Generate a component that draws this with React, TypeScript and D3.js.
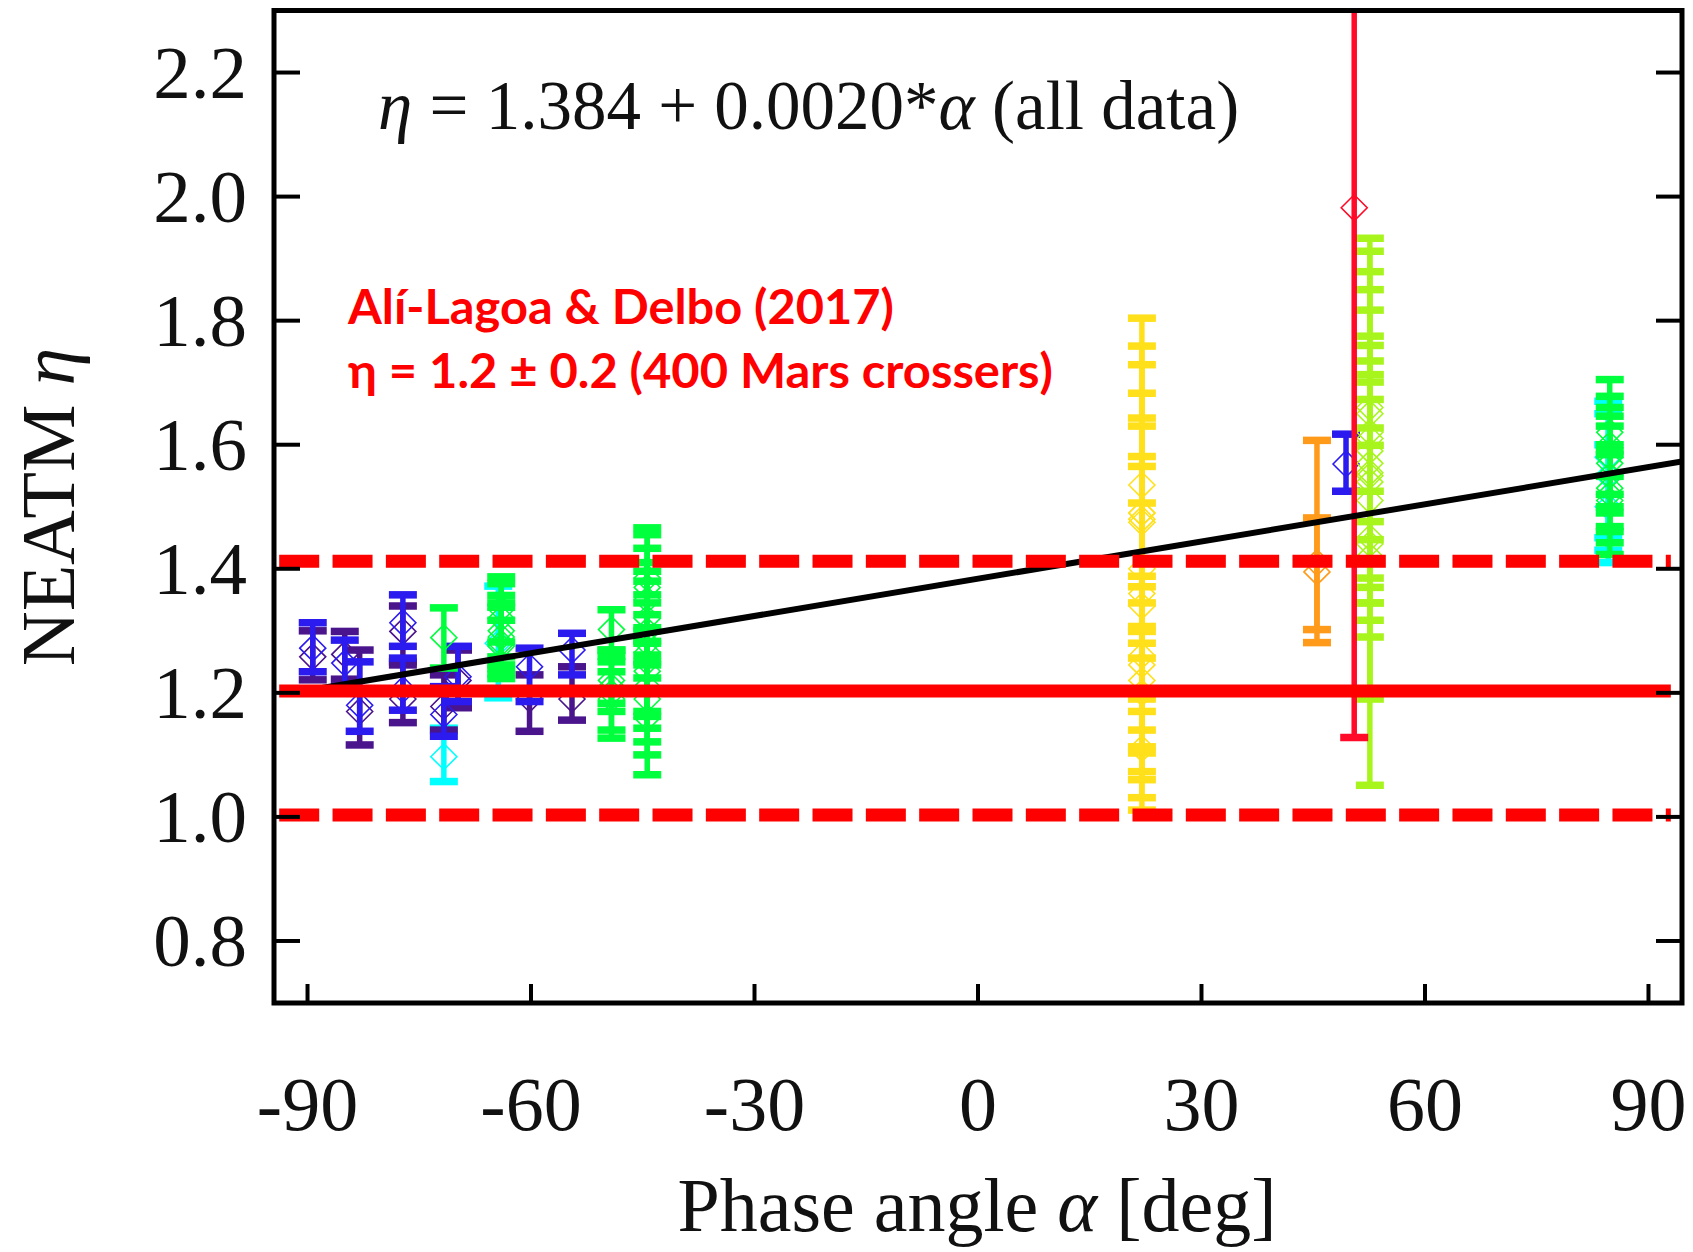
import React from 'react';
import * as d3 from 'd3';

// each point: [phase angle alpha, eta, lower end of error bar, upper end of error bar]
type Pt = [number, number, number, number];

const xTicks = [-90, -60, -30, 0, 30, 60, 90];
const yTicks = [0.8, 1.0, 1.2, 1.4, 1.6, 1.8, 2.0, 2.2];
const xDomain: [number, number] = [-94.5, 94.5];
const yDomain: [number, number] = [0.7, 2.3];

const fitIntercept = 1.384;
const fitSlope = 0.002;

const refMean = 1.203;
const refBand = [1.003, 1.412];

const cyanPts: Pt[] = [
  [-71.7, 1.097, 1.057, 1.143],
  [-64.4, 1.28, 1.192, 1.372],
  [84.6, 1.58, 1.45, 1.67],
  [84.6, 1.5, 1.41, 1.6],
  [84.6, 1.55, 1.43, 1.65],
];

const purplePts: Pt[] = [
  [-89.3, 1.258, 1.221, 1.3],
  [-85.0, 1.262, 1.222, 1.299],
  [-83.0, 1.17, 1.116, 1.269],
  [-77.2, 1.299, 1.25, 1.34],
  [-77.2, 1.19, 1.152, 1.245],
  [-71.7, 1.178, 1.14, 1.229],
  [-69.8, 1.22, 1.176, 1.269],
  [-60.2, 1.19, 1.138, 1.229],
  [-54.5, 1.19, 1.156, 1.242],
];

const bluePts: Pt[] = [
  [-89.3, 1.272, 1.234, 1.313],
  [-85.0, 1.248, 1.21, 1.285],
  [-83.0, 1.18, 1.138, 1.25],
  [-77.2, 1.313, 1.275, 1.358],
  [-77.2, 1.205, 1.172, 1.256],
  [-71.7, 1.165, 1.13, 1.21],
  [-69.8, 1.226, 1.186, 1.275],
  [-60.2, 1.242, 1.186, 1.272],
  [-54.5, 1.269, 1.229, 1.296],
  [49.4, 1.569, 1.525, 1.617],
];

const greenPts: Pt[] = [
  [-71.7, 1.289, 1.24, 1.337],
  [-64.0, 1.335, 1.282, 1.387],
  [-64.0, 1.32, 1.258, 1.376],
  [-64.0, 1.3, 1.239, 1.357],
  [-64.0, 1.28, 1.223, 1.338],
  [-64.0, 1.275, 1.23, 1.317],
  [-64.0, 1.29, 1.245, 1.345],
  [-49.2, 1.302, 1.269, 1.334],
  [-49.2, 1.19, 1.127, 1.25],
  [-49.2, 1.2, 1.14, 1.259],
  [-49.2, 1.21, 1.17, 1.234],
  [-49.2, 1.22, 1.183, 1.269],
  [-44.4, 1.385, 1.305, 1.466],
  [-44.4, 1.37, 1.283, 1.455],
  [-44.4, 1.35, 1.261, 1.433],
  [-44.4, 1.32, 1.245, 1.396],
  [-44.4, 1.3, 1.224, 1.38],
  [-44.4, 1.265, 1.17, 1.358],
  [-44.4, 1.25, 1.162, 1.345],
  [-44.4, 1.235, 1.143, 1.326],
  [-44.4, 1.21, 1.121, 1.3],
  [-44.4, 1.19, 1.1, 1.28],
  [-44.4, 1.16, 1.068, 1.25],
  [-44.4, 1.28, 1.2, 1.41],
  [84.8, 1.62, 1.549, 1.705],
  [84.8, 1.6, 1.5, 1.678],
  [84.8, 1.57, 1.49, 1.646],
  [84.8, 1.55, 1.468, 1.63],
  [84.8, 1.53, 1.442, 1.6],
  [84.8, 1.51, 1.423, 1.584],
  [84.8, 1.58, 1.52, 1.66],
  [84.8, 1.52, 1.46, 1.59],
];

const yellowPts: Pt[] = [
  [22.0, 1.535, 1.28, 1.804],
  [22.0, 1.48, 1.205, 1.759],
  [22.0, 1.49, 1.256, 1.729],
  [22.0, 1.49, 1.299, 1.683],
  [22.0, 1.475, 1.307, 1.643],
  [22.0, 1.4, 1.17, 1.63],
  [22.0, 1.36, 1.14, 1.581],
  [22.0, 1.34, 1.113, 1.565],
  [22.0, 1.26, 1.011, 1.506],
  [22.0, 1.245, 1.103, 1.388],
  [22.0, 1.22, 1.073, 1.371],
  [22.0, 1.2, 1.06, 1.345],
  [22.0, 1.11, 1.031, 1.19],
];

const orangePts: Pt[] = [
  [45.5, 1.41, 1.281, 1.607],
  [45.5, 1.395, 1.302, 1.482],
];

const limePts: Pt[] = [
  [52.6, 1.66, 1.385, 1.933],
  [52.6, 1.55, 1.19, 1.912],
  [52.6, 1.61, 1.345, 1.879],
  [52.6, 1.45, 1.051, 1.85],
  [52.6, 1.57, 1.317, 1.817],
  [52.6, 1.65, 1.525, 1.775],
  [52.6, 1.62, 1.476, 1.76],
  [52.6, 1.59, 1.447, 1.735],
  [52.6, 1.54, 1.37, 1.713],
  [52.6, 1.555, 1.41, 1.701],
  [52.6, 1.51, 1.345, 1.673],
  [52.6, 1.42, 1.205, 1.627],
  [52.6, 1.44, 1.29, 1.599],
];

const redPts: Pt[] = [[50.5, 1.982, 1.128, 2.836]];

const seriesOrder: { pts: Pt[]; color: string }[] = [
  { pts: cyanPts, color: '#00FFFF' },
  { pts: purplePts, color: '#4A148C' },
  { pts: bluePts, color: '#2B1BEF' },
  { pts: greenPts, color: '#00FF3C' },
  { pts: yellowPts, color: '#FFE01A' },
  { pts: orangePts, color: '#FF9A1A' },
  { pts: limePts, color: '#A8F51E' },
  { pts: redPts, color: '#FF0A28' },
];

const W = 1693;
const H = 1252;
const L = 274, R = 1682, T = 10.5, B = 1003;

export default function App() {
  const x = d3.scaleLinear().domain(xDomain).range([L, R]);
  const y = d3.scaleLinear().domain(yDomain).range([B, T]);
  const serif = '"Liberation Serif", "Times New Roman", serif';
  const capHalf = 14;
  const dia = 13;

  const allAlpha = seriesOrder.flatMap((s) => s.pts.map((p) => p[0]));
  const aMin = d3.min(allAlpha) as number;
  const fitLine = d3.line<number>()
    .x((a) => x(a))
    .y((a) => y(fitIntercept + fitSlope * a));

  const refX0 = x(-93.8);
  const refX1 = x(93.0);

  return (
    <svg width={W} height={H} style={{ position: 'absolute', left: 0, top: 0, background: '#fff' }}>
      <defs>
        <clipPath id="plotClip">
          <rect x={L} y={T} width={R - L} height={B - T} />
        </clipPath>
      </defs>
      <rect x={0} y={0} width={W} height={H} fill="#fff" />

      <g clipPath="url(#plotClip)">
        {seriesOrder.map((s, si) => (
          <g key={si} stroke={s.color} fill="none">
            {s.pts.map((p, i) => {
              const cx = x(p[0]);
              const cy = y(p[1]);
              const y0 = y(p[2]);
              const y1 = y(p[3]);
              return (
                <g key={i}>
                  <line x1={cx} x2={cx} y1={y0} y2={y1} strokeWidth={5.5} />
                  <line x1={cx - capHalf} x2={cx + capHalf} y1={y0} y2={y0} strokeWidth={7.5} />
                  <line x1={cx - capHalf} x2={cx + capHalf} y1={y1} y2={y1} strokeWidth={7.5} />
                  <path
                    d={`M${cx - dia},${cy} L${cx},${cy - dia} L${cx + dia},${cy} L${cx},${cy + dia} Z`}
                    strokeWidth={1.6}
                  />
                </g>
              );
            })}
          </g>
        ))}
        <path d={fitLine([aMin, xDomain[1]]) || ''} stroke="#000" strokeWidth={6} fill="none" />
        {refBand.map((v, i) => (
          <line key={i} x1={refX0} x2={refX1} y1={y(v)} y2={y(v)} stroke="#FF0000" strokeWidth={13}
            strokeDasharray="40 13.33" />
        ))}
        <line x1={refX0} x2={refX1} y1={y(refMean)} y2={y(refMean)} stroke="#FF0000" strokeWidth={13} />
      </g>

      {/* axes frame */}
      <rect x={L} y={T} width={R - L} height={B - T} fill="none" stroke="#000" strokeWidth={5} />
      {xTicks.map((t) => (
        <line key={'xt' + t} x1={x(t)} x2={x(t)} y1={B} y2={B - 19} stroke="#000" strokeWidth={4} />
      ))}
      {yTicks.map((t) => (
        <g key={'yt' + t}>
          <line x1={L} x2={L + 26} y1={y(t)} y2={y(t)} stroke="#000" strokeWidth={4} />
          <line x1={R} x2={R - 26} y1={y(t)} y2={y(t)} stroke="#000" strokeWidth={4} />
        </g>
      ))}

      {/* tick labels */}
      {xTicks.map((t) => (
        <text key={'xl' + t} x={x(t)} y={1130} textAnchor="middle" fontFamily={serif} fontSize={76} fill="#111">
          {String(t)}
        </text>
      ))}
      {yTicks.map((t) => (
        <text key={'yl' + t} x={247} y={y(t) + 25} textAnchor="end" fontFamily={serif} fontSize={75} fill="#111">
          {t.toFixed(1)}
        </text>
      ))}

      {/* axis titles */}
      <text x={977} y={1231} textAnchor="middle" fontFamily={serif} fontSize={76} fill="#111">
        Phase angle <tspan fontStyle="italic">α</tspan> [deg]
      </text>
      <text transform="translate(74,507) rotate(-90)" textAnchor="middle" fontFamily={serif} fontSize={76} fill="#111">
        NEATM <tspan fontStyle="italic">η</tspan>
      </text>

      {/* fit annotation */}
      <text x={378} y={129} fontFamily={serif} fontSize={69} fill="#111">
        <tspan fontStyle="italic">η</tspan>
        {' = 1.384 + 0.0020*'}
        <tspan fontStyle="italic">α</tspan>
        {' (all data)'}
      </text>

      {/* reference annotation */}
      <text x={348} y={324} fontFamily="Lato, 'Open Sans', sans-serif" fontWeight="bold" fontSize={47} fill="#FF0000"
        textLength={546} lengthAdjust="spacingAndGlyphs">
        Alí-Lagoa &amp; Delbo (2017)
      </text>
      <text x={348} y={388} fontFamily="Lato, 'Open Sans', sans-serif" fontWeight="bold" fontSize={47} fill="#FF0000"
        textLength={705} lengthAdjust="spacingAndGlyphs">
        η = 1.2 ± 0.2 (400 Mars crossers)
      </text>
    </svg>
  );
}
